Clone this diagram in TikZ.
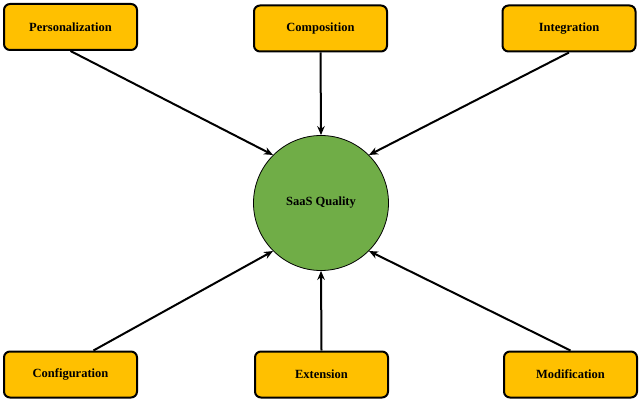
\documentclass[tikz,border=0pt]{standalone}
\usepackage{fontspec}
\setmainfont{Liberation Serif}
\usetikzlibrary{arrows.meta,calc}
\definecolor{boxfill}{HTML}{FFC000}
\definecolor{circfill}{HTML}{70AD47}
\tikzset{
  factor/.style={draw=black, line width=2pt, fill=boxfill, rounded corners=6pt,
    minimum width=133pt, minimum height=46pt, inner sep=0pt,
    font=\fontsize{12.5}{14}\selectfont\bfseries},
  core/.style={circle, draw=black, line width=0.8pt, fill=circfill, minimum size=135pt,
    inner sep=0pt, font=\fontsize{12.5}{14}\selectfont\bfseries},
  link/.style={line width=2pt, -{Stealth[length=9pt,width=7.5pt]}}
}
\begin{document}
\begin{tikzpicture}[x=1pt,y=-1pt]
\useasboundingbox (0,0) rectangle (642,403);
\node[core] (q) at (321,203) {SaaS Quality};
\node[factor] (pers) at (70.5,27) {Personalization};
\node[factor] (comp) at (320.5,28.5) {Composition};
\node[factor] (integ) at (569,28.5) {Integration};
\node[factor] (conf) at (70.5,374.5) {Configuration};
\node[factor] (ext) at (321.5,374.5) {Extension};
\node[factor] (modi) at (570.5,374.5) {Modification};
\draw[link] (pers.south) -- (q.135);
\draw[link] (comp.south) -- (q.north);
\draw[link] (integ.south) -- (q.45);
\draw[link] ($(conf.north)!0.34!(conf.north east)$) -- (q.225);
\draw[link] (ext.north) -- (q.south);
\draw[link] (modi.north) -- (q.315);
\end{tikzpicture}
\end{document}
